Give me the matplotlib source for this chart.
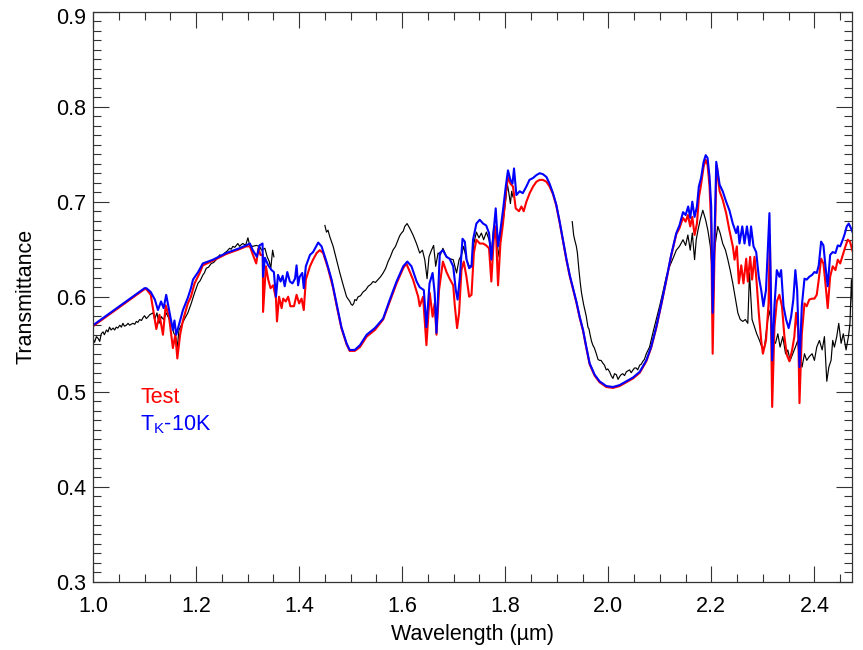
import numpy as np
import matplotlib
matplotlib.use("Agg")
import matplotlib.pyplot as plt
from matplotlib.ticker import MultipleLocator, FormatStrFormatter, FuncFormatter

plt.rcParams['font.family'] = ['Liberation Sans', 'DejaVu Sans']
plt.rcParams['mathtext.fontset'] = 'custom'
plt.rcParams['mathtext.rm'] = 'Liberation Sans'
plt.rcParams['mathtext.it'] = 'Liberation Sans:italic'

nan = np.nan

# ---- observed spectrum (black), NaN marks masked telluric bands ----
obs_wave = [1.000, 1.003, 1.0065, 1.010, 1.013, 1.016, 1.0194, 1.022, 1.026, 1.029,
            1.032, 1.035, 1.039, 1.042, 1.045, 1.048, 1.052, 1.055, 1.058, 1.061,
            1.0646, 1.068, 1.071, 1.074, 1.0776, 1.081, 1.084, 1.087, 1.0905, 1.094,
            1.097, 1.100, 1.1034, 1.107, 1.110, 1.1163, 1.1196, 1.124, 1.128, 1.1325,
            1.137, 1.142, 1.1474, 1.152, 1.1565, 1.1604, 1.1636, 1.1668, 1.1713, 1.178,
            1.184, 1.1906, 1.197, 1.2036, 1.208, 1.2133, 1.216, 1.2198, 1.224, 1.2294,
            1.234, 1.239, 1.242, 1.2457, 1.250, 1.2553, 1.260, 1.265, 1.268, 1.2715,
            1.275, 1.278, 1.281, 1.2844, 1.288, 1.291, 1.296, 1.3006, 1.304, 1.310,
            1.3167, 1.323, 1.327, 1.3335, 1.338, 1.342, 1.345, 1.3485, 1.351, 1.40,
            1.450, 1.453, 1.456, 1.4596, 1.466, 1.4726, 1.479, 1.4856, 1.492, 1.4984,
            1.501, 1.5035, 1.506, 1.508, 1.511, 1.5145, 1.519, 1.524, 1.529, 1.534,
            1.539, 1.5435, 1.548, 1.553, 1.558, 1.563, 1.568, 1.5726, 1.577, 1.582,
            1.587, 1.592, 1.595, 1.5986, 1.602, 1.605, 1.6095, 1.6147, 1.621, 1.6277,
            1.634, 1.6393, 1.6438, 1.6483, 1.652, 1.6568, 1.661, 1.665, 1.6696, 1.674,
            1.679, 1.686, 1.692, 1.699, 1.7055, 1.7104, 1.715, 1.7194, 1.7247, 1.730,
            1.7345, 1.739, 1.744, 1.749, 1.7537, 1.758, 1.7634, 1.7685, 1.773, 1.7776,
            1.783, 1.788, 1.7925, 1.797, 1.801, 1.804, 1.807, 1.810, 1.8125, 1.815,
            1.87,
            1.930, 1.9327, 1.9347, 1.938, 1.940, 1.943, 1.9457, 1.948, 1.952, 1.957,
            1.9605, 1.9625, 1.965, 1.9675, 1.970, 1.973, 1.9767, 1.980, 1.983, 1.986,
            1.9895, 1.9925, 1.996, 1.999, 2.0025, 2.0055, 2.009, 2.012, 2.0155, 2.019,
            2.022, 2.025, 2.028, 2.0315, 2.035, 2.038, 2.0413, 2.0445, 2.048, 2.051,
            2.054, 2.057, 2.061, 2.064, 2.067, 2.070, 2.0737, 2.080, 2.0865, 2.093,
            2.0995, 2.106, 2.1125, 2.119, 2.1253, 2.132, 2.138, 2.145, 2.150, 2.1544,
            2.159, 2.163, 2.1674, 2.1706, 2.174, 2.1784, 2.1834, 2.1888, 2.1932, 2.198,
            2.2025, 2.206, 2.2095, 2.2125, 2.217, 2.222, 2.2274, 2.232, 2.2365, 2.2416,
            2.247, 2.2514, 2.256, 2.261, 2.266, 2.2707, 2.274, 2.279, 2.2837, 2.288,
            2.2934, 2.2986, 2.303, 2.3095, 2.314, 2.318, 2.3244, 2.329, 2.3334, 2.3386,
            2.344, 2.3483, 2.353, 2.358, 2.363, 2.3677, 2.371, 2.376, 2.3807, 2.385,
            2.390, 2.3955, 2.400, 2.4045, 2.4097, 2.415, 2.4194, 2.424, 2.428, 2.4323,
            2.4355, 2.4388, 2.4433, 2.4472, 2.4518, 2.456, 2.4614, 2.466, 2.469, 2.4718,
            2.474]
obs_trans = [0.556, 0.552, 0.558, 0.556, 0.553, 0.561, 0.563, 0.560, 0.565, 0.563,
             0.568, 0.565, 0.567, 0.565, 0.568, 0.567, 0.570, 0.568, 0.572, 0.569,
             0.570, 0.572, 0.570, 0.571, 0.572, 0.571, 0.574, 0.573, 0.576, 0.575,
             0.578, 0.580, 0.577, 0.579, 0.581, 0.583, 0.576, 0.583, 0.572, 0.579,
             0.576, 0.583, 0.577, 0.572, 0.562, 0.558, 0.547, 0.565, 0.570, 0.577,
             0.583, 0.593, 0.604, 0.614, 0.617, 0.623, 0.625, 0.630, 0.631, 0.635,
             0.636, 0.639, 0.641, 0.644, 0.643, 0.646, 0.648, 0.651, 0.650, 0.653,
             0.652, 0.654, 0.656, 0.653, 0.655, 0.656, 0.654, 0.662, 0.654, 0.653,
             0.654, 0.653, 0.649, 0.651, 0.642, 0.637, 0.630, 0.649, 0.642, nan,
             0.675, 0.668, 0.670, 0.663, 0.653, 0.639, 0.625, 0.612, 0.600, 0.595,
             0.592, 0.591, 0.593, 0.597, 0.596, 0.600, 0.601, 0.605, 0.607, 0.611,
             0.613, 0.616, 0.615, 0.618, 0.621, 0.625, 0.630, 0.637, 0.642, 0.649,
             0.653, 0.660, 0.664, 0.667, 0.669, 0.674, 0.677, 0.672, 0.665, 0.656,
             0.646, 0.649, 0.639, 0.619, 0.642, 0.649, 0.654, 0.632, 0.646, 0.644,
             0.651, 0.642, 0.640, 0.639, 0.625, 0.639, 0.644, 0.653, 0.639, 0.632,
             0.633, 0.656, 0.668, 0.662, 0.667, 0.660, 0.668, 0.660, 0.645, 0.674,
             0.660, 0.642, 0.670, 0.684, 0.702, 0.719, 0.709, 0.698, 0.711, 0.705,
             nan,
             0.679, 0.665, 0.660, 0.653, 0.646, 0.628, 0.614, 0.604, 0.592, 0.580,
             0.568, 0.566, 0.559, 0.553, 0.549, 0.546, 0.540, 0.534, 0.533, 0.533,
             0.530, 0.528, 0.523, 0.524, 0.521, 0.517, 0.514, 0.519, 0.518, 0.513,
             0.516, 0.518, 0.519, 0.517, 0.521, 0.522, 0.523, 0.520, 0.523, 0.525,
             0.525, 0.523, 0.528, 0.529, 0.532, 0.534, 0.540, 0.547, 0.562, 0.576,
             0.590, 0.605, 0.621, 0.632, 0.640, 0.649, 0.653, 0.660, 0.654, 0.665,
             0.649, 0.667, 0.639, 0.660, 0.670, 0.681, 0.691, 0.681, 0.670, 0.653,
             0.620, 0.649, 0.663, 0.674, 0.667, 0.656, 0.649, 0.639, 0.628, 0.614,
             0.597, 0.583, 0.576, 0.574, 0.576, 0.572, 0.625, 0.576, 0.568, 0.561,
             0.554, 0.546, 0.547, 0.576, 0.586, 0.555, 0.551, 0.561, 0.547, 0.558,
             0.540, 0.544, 0.533, 0.540, 0.547, 0.554, 0.535, 0.526, 0.540, 0.533,
             0.537, 0.540, 0.533, 0.547, 0.554, 0.544, 0.558, 0.511, 0.526, 0.533,
             0.554, 0.547, 0.558, 0.572, 0.551, 0.561, 0.544, 0.558, 0.572, 0.618,
             0.590]

# ---- model "Test" (red) ----
test_wave = [1.000, 1.100, 1.1034, 1.112, 1.1228, 1.129, 1.1357, 1.141, 1.1474, 1.155,
             1.1597, 1.1636, 1.169, 1.1745, 1.184, 1.190, 1.197, 1.207, 1.213, 1.233,
             1.2585, 1.284, 1.297, 1.3045, 1.309, 1.3167, 1.321, 1.325, 1.3295, 1.330,
             1.3355, 1.340, 1.3445, 1.3496, 1.355, 1.357, 1.361, 1.366, 1.369, 1.374,
             1.3787, 1.383, 1.390, 1.395, 1.400, 1.4047, 1.409, 1.413, 1.421, 1.427,
             1.434, 1.440, 1.4466, 1.456, 1.466, 1.4726, 1.482, 1.492, 1.498, 1.508,
             1.518, 1.531, 1.547, 1.563, 1.576, 1.589, 1.602, 1.608, 1.621, 1.631,
             1.634, 1.6405, 1.647, 1.6535, 1.659, 1.663, 1.6665, 1.6715, 1.679, 1.686,
             1.692, 1.699, 1.702, 1.7065, 1.7104, 1.715, 1.7194, 1.7247, 1.730, 1.7345,
             1.739, 1.744, 1.7505, 1.757, 1.763, 1.7685, 1.773, 1.7776, 1.7815, 1.786,
             1.7906, 1.7956, 1.801, 1.8053, 1.810, 1.815, 1.8203, 1.8267, 1.8313, 1.8358,
             1.841, 1.8474, 1.854, 1.8604, 1.8668, 1.873, 1.880, 1.886, 1.8926, 1.899,
             1.9056, 1.912, 1.9186, 1.925, 1.9314, 1.938, 1.9444, 1.951, 1.957, 1.9637,
             1.9734, 1.983, 1.996, 2.009, 2.022, 2.035, 2.048, 2.061, 2.0737, 2.083,
             2.093, 2.103, 2.1125, 2.122, 2.132, 2.138, 2.145, 2.150, 2.1544, 2.159,
             2.163, 2.1674, 2.172, 2.1757, 2.180, 2.185, 2.189, 2.1926, 2.1965, 2.1997,
             2.2025, 2.206, 2.2095, 2.2106, 2.216, 2.222, 2.2287, 2.235, 2.2416, 2.245,
             2.2494, 2.2533, 2.258, 2.2623, 2.2676, 2.2707, 2.2753, 2.279, 2.2837, 2.288,
             2.292, 2.2967, 2.300, 2.306, 2.311, 2.3135, 2.318, 2.3224, 2.327, 2.332,
             2.337, 2.3418, 2.3463, 2.3515, 2.3567, 2.361, 2.3645, 2.3685, 2.371, 2.3755,
             2.3807, 2.385, 2.390, 2.3955, 2.400, 2.4045, 2.4084, 2.413, 2.4175, 2.4214,
             2.4258, 2.4305, 2.4355, 2.4408, 2.4453, 2.450, 2.455, 2.4602, 2.4647, 2.469,
             2.474]
test_trans = [0.569, 0.608, 0.608, 0.602, 0.566, 0.581, 0.560, 0.591, 0.579, 0.546,
              0.560, 0.535, 0.560, 0.575, 0.593, 0.600, 0.614, 0.625, 0.633, 0.638,
              0.645, 0.650, 0.653, 0.653, 0.646, 0.635, 0.651, 0.644, 0.644, 0.584,
              0.632, 0.618, 0.609, 0.612, 0.598, 0.574, 0.600, 0.588, 0.598, 0.595,
              0.600, 0.590, 0.590, 0.602, 0.593, 0.598, 0.586, 0.618, 0.632, 0.639,
              0.646, 0.649, 0.646, 0.630, 0.609, 0.591, 0.567, 0.550, 0.543, 0.543,
              0.547, 0.558, 0.565, 0.576, 0.595, 0.614, 0.630, 0.635, 0.618, 0.600,
              0.590, 0.600, 0.549, 0.604, 0.579, 0.593, 0.560, 0.607, 0.637, 0.626,
              0.619, 0.612, 0.591, 0.567, 0.583, 0.628, 0.637, 0.621, 0.600, 0.602,
              0.646, 0.660, 0.656, 0.656, 0.654, 0.651, 0.616, 0.660, 0.674, 0.612,
              0.656, 0.677, 0.709, 0.726, 0.719, 0.716, 0.693, 0.690, 0.695, 0.690,
              0.700, 0.709, 0.716, 0.721, 0.723, 0.723, 0.721, 0.716, 0.708, 0.696,
              0.678, 0.659, 0.639, 0.622, 0.608, 0.594, 0.578, 0.564, 0.547, 0.529,
              0.517, 0.510, 0.505, 0.504, 0.506, 0.510, 0.514, 0.520, 0.532, 0.546,
              0.567, 0.592, 0.617, 0.643, 0.666, 0.672, 0.683, 0.679, 0.686, 0.674,
              0.684, 0.665, 0.677, 0.704, 0.718, 0.737, 0.744, 0.739, 0.716, 0.674,
              0.540, 0.642, 0.726, 0.738, 0.711, 0.702, 0.688, 0.670, 0.653, 0.639,
              0.653, 0.614, 0.633, 0.614, 0.640, 0.616, 0.642, 0.618, 0.642, 0.614,
              0.583, 0.554, 0.540, 0.554, 0.593, 0.665, 0.484, 0.568, 0.595, 0.602,
              0.590, 0.558, 0.539, 0.532, 0.544, 0.558, 0.583, 0.565, 0.488, 0.561,
              0.593, 0.590, 0.597, 0.598, 0.598, 0.602, 0.618, 0.640, 0.635, 0.614,
              0.588, 0.621, 0.632, 0.628, 0.639, 0.635, 0.644, 0.653, 0.660, 0.658,
              0.648]

# ---- model "T_K - 10K" (blue) ----
cool_wave = [1.000, 1.100, 1.1034, 1.112, 1.120, 1.126, 1.132, 1.137, 1.142, 1.150,
             1.155, 1.158, 1.1615, 1.169, 1.1745, 1.184, 1.190, 1.194, 1.204, 1.213,
             1.233, 1.2585, 1.284, 1.297, 1.3045, 1.310, 1.318, 1.323, 1.329, 1.330,
             1.3335, 1.340, 1.3465, 1.351, 1.355, 1.359, 1.364, 1.368, 1.372, 1.377,
             1.382, 1.387, 1.392, 1.395, 1.398, 1.401, 1.406, 1.409, 1.413, 1.421,
             1.427, 1.434, 1.437, 1.4435, 1.453, 1.463, 1.4726, 1.482, 1.492, 1.498,
             1.508, 1.518, 1.531, 1.547, 1.563, 1.576, 1.589, 1.602, 1.610, 1.618,
             1.628, 1.634, 1.642, 1.647, 1.653, 1.659, 1.663, 1.6665, 1.673, 1.679,
             1.686, 1.692, 1.699, 1.704, 1.7075, 1.712, 1.717, 1.7215, 1.725, 1.730,
             1.7345, 1.7375, 1.744, 1.7505, 1.757, 1.763, 1.7685, 1.773, 1.7776, 1.7815,
             1.786, 1.7906, 1.7956, 1.801, 1.8053, 1.810, 1.814, 1.817, 1.8216, 1.828,
             1.834, 1.841, 1.847, 1.854, 1.8604, 1.8668, 1.873, 1.880, 1.886, 1.8926,
             1.899, 1.9056, 1.912, 1.9186, 1.925, 1.9314, 1.938, 1.9444, 1.951, 1.957,
             1.9637, 1.9734, 1.983, 1.996, 2.009, 2.022, 2.035, 2.048, 2.061, 2.0737,
             2.083, 2.093, 2.103, 2.1125, 2.122, 2.132, 2.138, 2.145, 2.150, 2.155,
             2.159, 2.163, 2.1674, 2.172, 2.1757, 2.180, 2.185, 2.189, 2.1926, 2.1965,
             2.1997, 2.2025, 2.206, 2.2095, 2.216, 2.222, 2.2287, 2.235, 2.2416, 2.248,
             2.2514, 2.2546, 2.260, 2.2643, 2.269, 2.274, 2.277, 2.2818, 2.287, 2.292,
             2.2967, 2.301, 2.306, 2.3127, 2.318, 2.3224, 2.327, 2.332, 2.3354, 2.340,
             2.345, 2.350, 2.3548, 2.359, 2.363, 2.3665, 2.371, 2.3755, 2.3807, 2.385,
             2.390, 2.3955, 2.400, 2.4045, 2.4084, 2.413, 2.4175, 2.4214, 2.4258, 2.4305,
             2.4355, 2.4408, 2.4453, 2.450, 2.455, 2.4582, 2.4627, 2.4666, 2.471, 2.474]
cool_trans = [0.570, 0.609, 0.609, 0.605, 0.597, 0.586, 0.595, 0.588, 0.602, 0.579,
              0.565, 0.575, 0.560, 0.575, 0.586, 0.599, 0.609, 0.618, 0.626, 0.635,
              0.639, 0.646, 0.651, 0.654, 0.656, 0.649, 0.642, 0.654, 0.656, 0.621,
              0.641, 0.633, 0.628, 0.626, 0.600, 0.623, 0.616, 0.622, 0.611, 0.626,
              0.616, 0.614, 0.619, 0.633, 0.612, 0.621, 0.625, 0.609, 0.632, 0.644,
              0.647, 0.654, 0.657, 0.653, 0.637, 0.618, 0.593, 0.568, 0.551, 0.544,
              0.544, 0.549, 0.560, 0.567, 0.577, 0.597, 0.616, 0.632, 0.637, 0.632,
              0.616, 0.610, 0.607, 0.568, 0.614, 0.625, 0.604, 0.562, 0.646, 0.649,
              0.642, 0.640, 0.632, 0.607, 0.597, 0.621, 0.661, 0.658, 0.639, 0.630,
              0.632, 0.660, 0.677, 0.681, 0.677, 0.675, 0.667, 0.639, 0.670, 0.693,
              0.653, 0.670, 0.691, 0.716, 0.733, 0.723, 0.719, 0.735, 0.707, 0.711,
              0.709, 0.716, 0.723, 0.725, 0.728, 0.730, 0.729, 0.726, 0.719, 0.709,
              0.697, 0.679, 0.660, 0.640, 0.623, 0.609, 0.595, 0.579, 0.565, 0.548,
              0.530, 0.518, 0.511, 0.506, 0.505, 0.507, 0.511, 0.515, 0.521, 0.533,
              0.547, 0.568, 0.593, 0.618, 0.644, 0.667, 0.675, 0.689, 0.686, 0.695,
              0.683, 0.700, 0.684, 0.695, 0.716, 0.725, 0.742, 0.749, 0.746, 0.726,
              0.695, 0.583, 0.660, 0.742, 0.718, 0.711, 0.700, 0.691, 0.677, 0.667,
              0.674, 0.656, 0.674, 0.656, 0.674, 0.654, 0.674, 0.653, 0.647, 0.621,
              0.607, 0.590, 0.607, 0.688, 0.533, 0.590, 0.628, 0.621, 0.628, 0.590,
              0.576, 0.567, 0.579, 0.597, 0.628, 0.607, 0.526, 0.590, 0.619, 0.618,
              0.621, 0.623, 0.626, 0.625, 0.633, 0.658, 0.654, 0.632, 0.611, 0.644,
              0.647, 0.646, 0.654, 0.653, 0.660, 0.665, 0.674, 0.677, 0.672, 0.668]

Y_TOP = 0.9

fig = plt.figure(figsize=(8.63, 6.50), dpi=100)
ax = fig.add_axes([0.1078, 0.105, 0.8795, 0.877])

ax.plot(obs_wave, obs_trans, color='black', lw=0.85)
ax.plot(test_wave, test_trans, color='red', lw=1.5)
ax.plot(cool_wave, cool_trans, color='blue', lw=1.5)

ax.set_xlim(1.0, 2.473)
ax.set_ylim(0.3, Y_TOP)

ax.xaxis.set_major_locator(MultipleLocator(0.2))
ax.xaxis.set_minor_locator(MultipleLocator(0.05))
ax.yaxis.set_major_locator(MultipleLocator(0.1))
ax.yaxis.set_minor_locator(MultipleLocator(0.01))
ax.xaxis.set_major_formatter(FormatStrFormatter('%.1f'))
# top label is drawn separately, shifted down below the frame edge
ax.yaxis.set_major_formatter(FuncFormatter(
    lambda v, pos: '' if abs(v - Y_TOP) < 1e-6 else '%.1f' % v))

ax.tick_params(which='both', direction='in', top=True, right=True, width=0.8, color='#333333')
ax.tick_params(which='major', length=11.5)
ax.tick_params(which='minor', length=5.7)
ax.tick_params(axis='x', which='major', labelsize=15.5, pad=10)
ax.tick_params(axis='y', which='major', labelsize=15.5, pad=5)
for s in ax.spines.values():
    s.set_linewidth(0.9)
    s.set_color('#333333')

ax.annotate('%.1f' % Y_TOP, xy=(0, Y_TOP), xycoords=('axes fraction', 'data'),
            xytext=(-5, -4.8), textcoords='offset points',
            ha='right', va='center', fontsize=15.5)

ax.set_xlabel('Wavelength (\u00b5m)', fontsize=15.5, labelpad=5)
ax.set_ylabel('Transmittance', fontsize=15.5, labelpad=14)

ax.text(0.062, 0.324, 'Test', color='red', fontsize=15.5,
        transform=ax.transAxes, va='center', ha='left')
ax.text(0.062, 0.275, r'T$_\mathrm{K}$-10K', color='blue', fontsize=15.5,
        transform=ax.transAxes, va='center', ha='left')

fig.savefig('out.png', dpi=100)
